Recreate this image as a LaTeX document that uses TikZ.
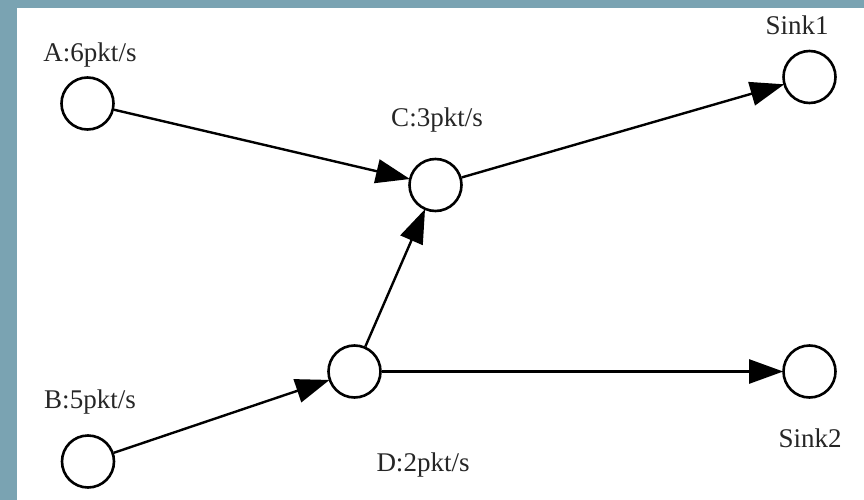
\documentclass[tikz,border=0pt]{standalone}
\usepackage{fontspec}
\setmainfont{Liberation Serif}
\usetikzlibrary{arrows.meta}
\definecolor{bgteal}{RGB}{122,163,178}
\tikzset{
  vertex/.style={circle, draw=black, line width=2.6pt, fill=white, minimum size=52pt, inner sep=0pt},
  lbl/.style={font=\fontsize{27}{31}\selectfont, text=black!85, inner sep=0pt},
  edge/.style={line width=2.4pt, -{Triangle[length=34pt,width=24pt]}, shorten >=-1pt}
}
\begin{document}
\begin{tikzpicture}[x=1pt,y=-1pt]
\fill[bgteal] (0,0) rectangle (864,500);
\fill[white] (17,8) rectangle (864,500);
\useasboundingbox (0,0) rectangle (864,500);
\node[vertex] (A) at (87.5,103.5) {};
\node[vertex] (C) at (435.5,185) {};
\node[vertex] (S1) at (809.5,77) {};
\node[vertex] (D) at (354.5,371.5) {};
\node[vertex] (S2) at (809.5,371.5) {};
\node[vertex] (B) at (88,461.5) {};
\node[lbl] (lA) at (90,55) {A:6pkt/s};
\node[lbl] (lB) at (90,402) {B:5pkt/s};
\node[lbl] (lC) at (437,120) {C:3pkt/s};
\node[lbl] (lD) at (423,465) {D:2pkt/s};
\node[lbl] (lS1) at (797,25) {Sink1};
\node[lbl] (lS2) at (810,438) {Sink2};
\draw[edge] (A) -- (C);
\draw[edge] (C) -- (S1);
\draw[edge] (B) -- (D);
\draw[edge] (D) -- (C);
\draw[edge] (D) -- (S2);
\end{tikzpicture}
\end{document}
